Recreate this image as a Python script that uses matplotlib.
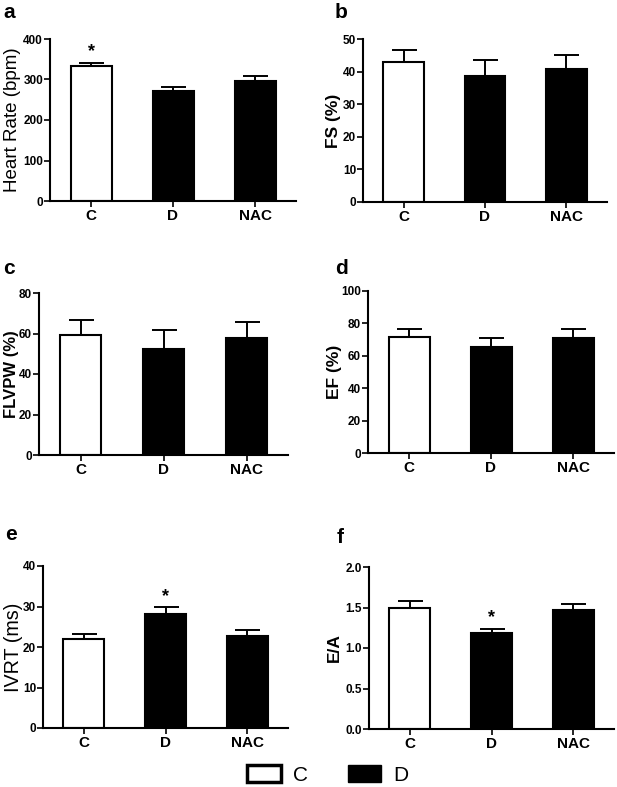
import matplotlib
matplotlib.use('Agg')
import matplotlib.pyplot as plt
from matplotlib.patches import Patch

plt.rcParams['font.family'] = ['Liberation Sans', 'DejaVu Sans']

groups = ['C', 'D', 'NAC']

hr_mean = [334, 272, 297]
hr_err = [7, 9, 11]
fs_mean = [42.8, 38.7, 40.7]
fs_err = [3.9, 4.8, 4.5]
flvpw_mean = [59.2, 52.3, 57.9]
flvpw_err = [7.3, 9.4, 7.7]
ef_mean = [71.5, 65.2, 70.7]
ef_err = [4.8, 5.5, 5.6]
ivrt_mean = [21.9, 28.1, 22.6]
ivrt_err = [1.3, 1.7, 1.5]
ea_mean = [1.49, 1.19, 1.47]
ea_err = [0.09, 0.05, 0.07]

W, H = 617, 787
fig = plt.figure(figsize=(W / 100, H / 100), dpi=100)


def px_axes(l, r, t, b):
    return fig.add_axes([l / W, 1 - b / H, (r - l) / W, (b - t) / H])


# (left, right, top, bottom) in pixels, label, label right-edge px, label size,
# ymax, step, data, star, bold label
panels = [
    ((50, 296, 39, 201), 'a', 'Heart Rate (bpm)', 21.5, 13.5, 400, 100, hr_mean, hr_err, 0, False),
    ((363, 607, 39, 202), 'b', 'FS (%)', 341, 12.5, 50, 10, fs_mean, fs_err, None, True),
    ((39, 288, 293, 455), 'c', 'FLVPW (%)', 19.5, 12, 80, 20, flvpw_mean, flvpw_err, None, True),
    ((368, 614, 291, 453), 'd', 'EF (%)', 342, 12.5, 100, 20, ef_mean, ef_err, None, True),
    ((43, 288, 566, 728), 'e', 'IVRT (ms)', 23.5, 14.2, 40, 10, ivrt_mean, ivrt_err, 1, False),
    ((369, 614, 567, 729), 'f', 'E/A', 342, 12.5, 2.0, 0.5, ea_mean, ea_err, 1, True),
]

letter_pos = {'a': (3, 18), 'b': (335, 18), 'c': (3, 274), 'd': (335, 274),
              'e': (5, 540), 'f': (337, 543)}

for box, letter, ylabel, lab_x, lab_size, ymax, step, mean, err, star, bold in panels:
    ax = px_axes(*box)
    x = range(len(groups))
    colors = ['white', 'black', 'black']
    ax.bar(x, mean, width=0.5, color=colors, edgecolor='black', linewidth=1.5, zorder=2)
    ax.errorbar(x, mean, yerr=[[0] * len(err), err], fmt='none', ecolor='black',
                elinewidth=1.4, capsize=9, capthick=1.4, zorder=1)
    ax.set_xlim(-0.5, 2.5)
    ax.set_ylim(0, ymax)
    ticks = [i * step for i in range(int(round(ymax / step)) + 1)]
    ax.set_yticks(ticks)
    if step < 1:
        ax.set_yticklabels([f'{t:.1f}' for t in ticks])
    ax.set_xticks(list(x))
    ax.set_xticklabels(groups, fontsize=11, fontweight='bold')
    for lab in ax.get_yticklabels():
        lab.set_fontsize(8.5)
        lab.set_fontweight('bold')
    ax.spines['top'].set_visible(False)
    ax.spines['right'].set_visible(False)
    ax.spines['left'].set_linewidth(1.5)
    ax.spines['bottom'].set_linewidth(1.5)
    ax.tick_params(axis='y', length=4, width=1.2, pad=1)
    ax.tick_params(axis='x', length=4, width=1.2, pad=2)
    ax.set_ylabel(ylabel, fontsize=lab_size, fontweight='bold' if bold else 'normal')
    ax.yaxis.set_label_coords((lab_x - box[0]) / (box[1] - box[0]), 0.5)
    if star is not None:
        ax.text(star, mean[star] + err[star] + ymax * 0.015, '*', ha='center',
                va='bottom', fontsize=13, fontweight='bold')
    lx, ly = letter_pos[letter]
    fig.text(lx / W, 1 - ly / H, letter, fontsize=15, fontweight='bold',
             ha='left', va='baseline')

handles = [Patch(facecolor='white', edgecolor='black', linewidth=2.5),
           Patch(facecolor='black', edgecolor='black')]
fig.legend(handles, ['C', 'D'], loc='center', bbox_to_anchor=(328 / W, 1 - 775 / H),
           ncol=2, frameon=False, fontsize=15, handlelength=1.6, handleheight=0.85,
           columnspacing=1.9, handletextpad=0.6)

fig.savefig('out.png', dpi=100)
